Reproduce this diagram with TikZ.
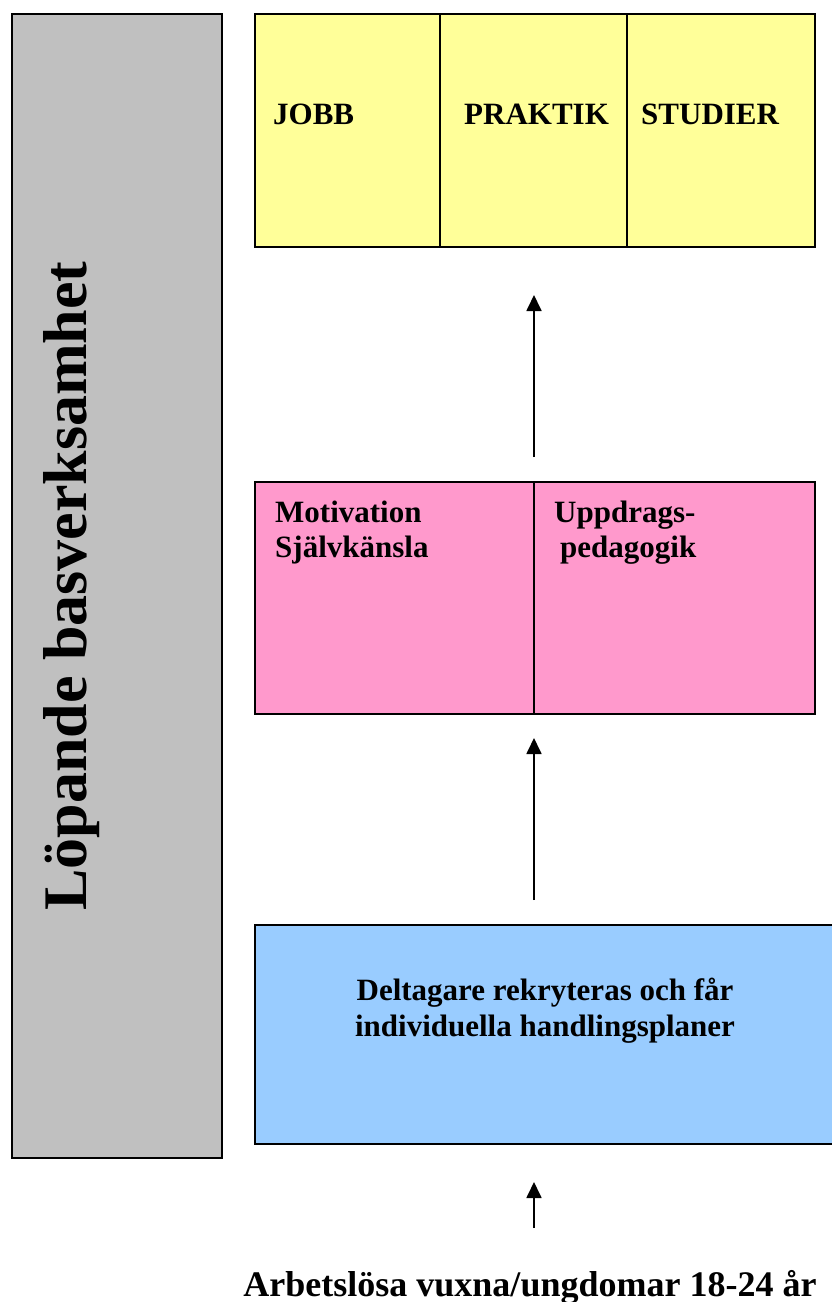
\documentclass[tikz,border=0pt]{standalone}
\usepackage{fontspec}
\setmainfont{Liberation Serif}
\usetikzlibrary{arrows.meta}
\definecolor{cyellow}{HTML}{FFFF99}
\definecolor{cpink}{HTML}{FF99CC}
\definecolor{cblue}{HTML}{99CCFF}
\definecolor{cgray}{HTML}{C0C0C0}
\tikzset{
  boxst/.style={draw=black, line width=1.6pt, inner sep=0pt},
  lbl/.style={inner sep=0pt, font=\fontsize{31}{37}\selectfont\bfseries},
  arr/.style={line width=1.8pt, -{Triangle[width=15pt,length=16pt]}},
}
\begin{document}
\begin{tikzpicture}[x=1pt,y=-1pt]
\useasboundingbox (0,0) rectangle (832,1302);
% gray bar
\node[boxst, fill=cgray, minimum width=210pt, minimum height=1144pt, anchor=north west] (gray) at (11,13) {};
\node[rotate=90, inner sep=0pt, font=\fontsize{62}{62}\selectfont\bfseries] (vlabel) at (72,586) {Löpande basverksamhet};
% yellow box
\node[boxst, fill=cyellow, minimum width=560pt, minimum height=233pt, anchor=north west] (yellow) at (254,13) {};
\coordinate (y1t) at (440,13); \coordinate (y1b) at (440,246);
\coordinate (y2t) at (627,13); \coordinate (y2b) at (627,246);
\draw[line width=1.6pt] (y1t) -- (y1b);
\draw[line width=1.6pt] (y2t) -- (y2b);
\node[lbl, anchor=base west] (jobb) at (273,124) {JOBB};
\node[lbl, anchor=base west] (praktik) at (464,124) {PRAKTIK};
\node[lbl, anchor=base west] (studier) at (641,124) {STUDIER};
% pink box
\node[boxst, fill=cpink, minimum width=560pt, minimum height=232pt, anchor=north west] (pink) at (254,481) {};
\coordinate (p1t) at (534,481); \coordinate (p1b) at (534,713);
\draw[line width=1.6pt] (p1t) -- (p1b);
\node[lbl, anchor=base west] (motiv) at (275,522) {Motivation};
\node[lbl, anchor=base west] (sjalv) at (275,557) {Självkänsla};
\node[lbl, anchor=base west] (uppd) at (554,522) {Uppdrags-};
\node[lbl, anchor=base west] (pedag) at (560,557) {pedagogik};
% blue box
\node[boxst, fill=cblue, minimum width=590pt, minimum height=219pt, anchor=north west] (blue) at (254,924) {};
\node[lbl, anchor=base] (delt1) at (545,1000) {Deltagare rekryteras och får};
\node[lbl, anchor=base] (delt2) at (545,1036) {individuella handlingsplaner};
% bottom label
\node[inner sep=0pt, anchor=base, font=\fontsize{36}{42}\selectfont\bfseries] (arb) at (530,1296) {Arbetslösa vuxna/ungdomar 18-24 år};
% arrows
\coordinate (a1s) at (534,457); \coordinate (a1e) at (534,295);
\coordinate (a2s) at (534,900); \coordinate (a2e) at (534,738);
\coordinate (a3s) at (534,1228); \coordinate (a3e) at (534,1182);
\draw[arr] (a1s) -- (a1e);
\draw[arr] (a2s) -- (a2e);
\draw[arr] (a3s) -- (a3e);
\end{tikzpicture}
\end{document}
